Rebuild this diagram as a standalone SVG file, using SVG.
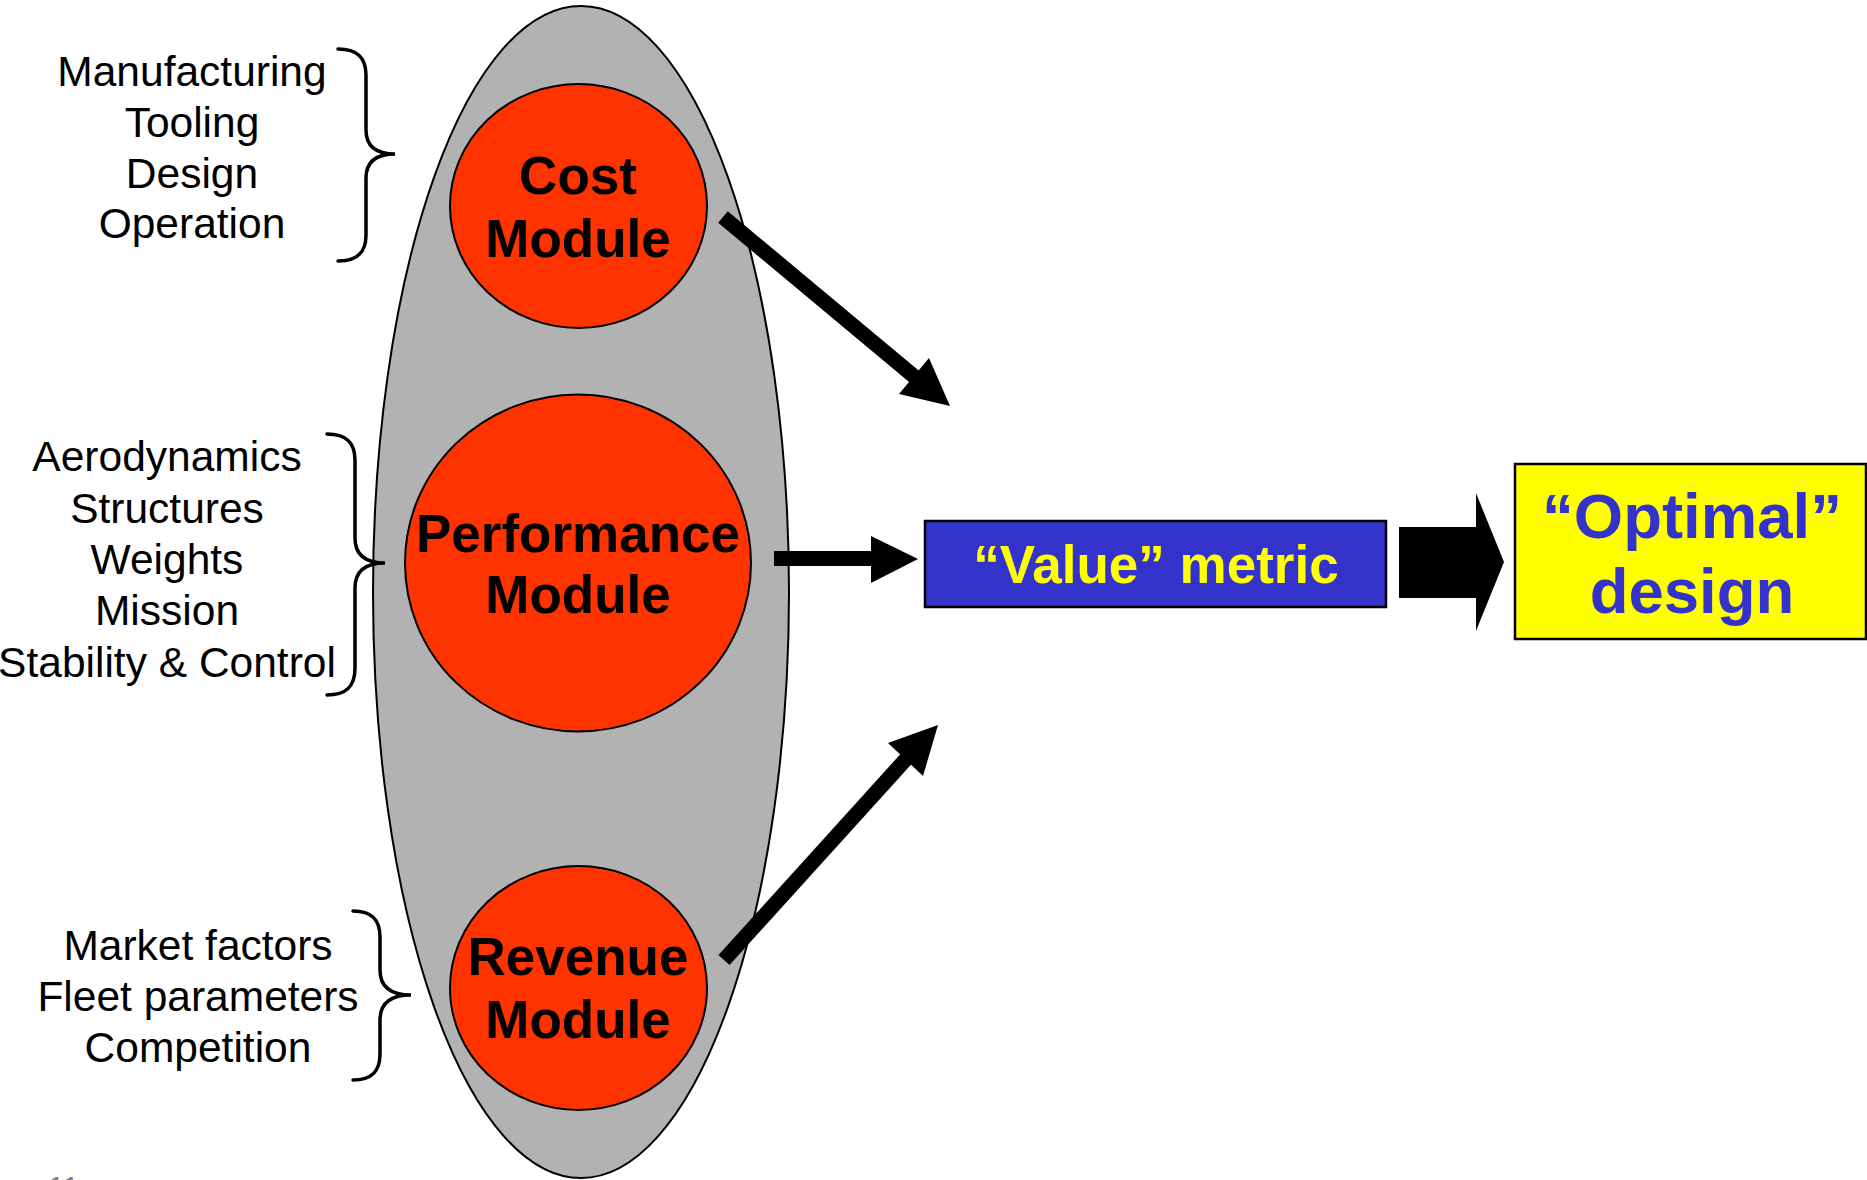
<svg xmlns="http://www.w3.org/2000/svg" width="1867" height="1180" viewBox="0 0 1867 1180">
  <style>
    .label { font-family: "Liberation Sans", Arial, sans-serif; font-size: 42.5px; fill: #000; text-anchor: middle; }
    .module { font-family: "Liberation Sans", Arial, sans-serif; font-size: 53px; font-weight: bold; fill: #000; text-anchor: middle; }
    .mod-shape { fill: #FF3300; stroke: #000; stroke-width: 2; }
    .brace { fill: none; stroke: #000; stroke-width: 3.5; stroke-linecap: round; }
    .shaft { stroke: #000; stroke-width: 15; fill: none; }
    .head { fill: #000; }
  </style>

  <rect width="1867" height="1180" fill="#fff"/>

  <!-- enclosing group of analysis modules -->
  <g id="module-group">
    <ellipse cx="581" cy="592" rx="208" ry="586" fill="#B2B2B2" stroke="#000" stroke-width="2"/>
  </g>

  <!-- discipline lists with braces -->
  <g id="cost-inputs">
    <text class="label" x="192" y="86">Manufacturing</text>
    <text class="label" x="192" y="137">Tooling</text>
    <text class="label" x="192" y="188">Design</text>
    <text class="label" x="192" y="238">Operation</text>
    <path class="brace" d="M338,49 C358,49 366,58 366,75 L366,130 C366,146 376,154 395,154 C376,154 366,162 366,178 L366,235 C366,252 358,261 338,261"/>
  </g>

  <g id="performance-inputs">
    <text class="label" x="167" y="471">Aerodynamics</text>
    <text class="label" x="167" y="523">Structures</text>
    <text class="label" x="167" y="574">Weights</text>
    <text class="label" x="167" y="625">Mission</text>
    <text class="label" x="167" y="677">Stability &amp; Control</text>
    <path class="brace" d="M327,434 C347,434 355,443 355,460 L355,538 C355,555 365,563 385,563 C365,563 355,571 355,588 L355,668 C355,686 347,695 327,695"/>
  </g>

  <g id="revenue-inputs">
    <text class="label" x="198" y="960">Market factors</text>
    <text class="label" x="198" y="1011">Fleet parameters</text>
    <text class="label" x="198" y="1062">Competition</text>
    <path class="brace" d="M353,911 C372,911 380,920 380,937 L380,970 C380,987 391,995 411,995 C391,995 380,1003 380,1020 L380,1054 C380,1071 372,1080 353,1080"/>
  </g>

  <!-- module nodes -->
  <g id="cost-module">
    <ellipse class="mod-shape" cx="578.5" cy="206" rx="128.5" ry="122"/>
    <text class="module" x="578" y="194">Cost</text>
    <text class="module" x="578" y="257">Module</text>
  </g>

  <g id="performance-module">
    <ellipse class="mod-shape" cx="578" cy="563" rx="173" ry="168.5"/>
    <text class="module" x="578" y="552">Performance</text>
    <text class="module" x="578" y="613">Module</text>
  </g>

  <g id="revenue-module">
    <ellipse class="mod-shape" cx="578.5" cy="988" rx="128.5" ry="122"/>
    <text class="module" x="578" y="975">Revenue</text>
    <text class="module" x="578" y="1038">Module</text>
  </g>

  <!-- value metric node -->
  <g id="value-metric">
    <rect x="925" y="521" width="461" height="86" fill="#3333CC" stroke="#000" stroke-width="2.5"/>
    <text x="1156" y="583" font-family="'Liberation Sans', Arial, sans-serif" font-size="53" font-weight="bold" fill="#FFFF00" text-anchor="middle">“Value” metric</text>
  </g>

  <!-- optimal design node -->
  <g id="optimal-design">
    <rect x="1515" y="464" width="351" height="175" fill="#FFFF00" stroke="#000" stroke-width="2.5"/>
    <text x="1692" y="538" font-family="'Liberation Sans', Arial, sans-serif" font-size="63.5" font-weight="bold" fill="#3333CC" text-anchor="middle">“Optimal”</text>
    <text x="1692" y="613" font-family="'Liberation Sans', Arial, sans-serif" font-size="63.5" font-weight="bold" fill="#3333CC" text-anchor="middle">design</text>
  </g>

  <!-- connectors -->
  <g id="connectors">
    <line class="shaft" x1="723" y1="217" x2="916" y2="378"/>
    <polygon class="head" points="899,394 929,358 950,406"/>

    <rect x="774" y="551" width="99" height="15" fill="#000"/>
    <polygon class="head" points="871,536 918,559 871,583"/>

    <line class="shaft" x1="724" y1="960" x2="907" y2="758"/>
    <polygon class="head" points="888,743 923,776 938,725"/>

    <polygon class="head" points="1399,527 1476,527 1476,493 1504,562 1476,631 1476,598 1399,598"/>
  </g>

  <!-- page number, cut at the lower edge -->
  <text x="48" y="1197" font-family="'Liberation Sans', Arial, sans-serif" font-size="30" fill="#808080">11</text>
</svg>
